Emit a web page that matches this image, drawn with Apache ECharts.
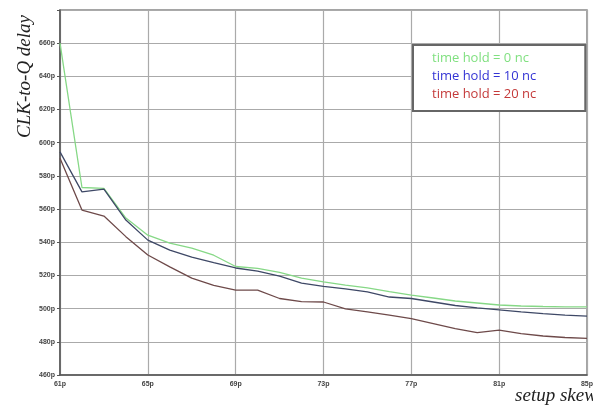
<!DOCTYPE html>
<html>
<head>
<meta charset="utf-8">
<script src="https://cdn.jsdelivr.net/npm/echarts@6/dist/echarts.min.js"></script>
<style>html,body{margin:0;padding:0;background:#fff;}#c{width:593px;height:405px;}</style>
</head>
<body>
<div id="c"></div>
<script>
var skew = [61,62,63,64,65,66,67,68,69,70,71,72,73,74,75,76,77,78,79,80,81,82,83,84,85];
var hold0 = [660,573,572.5,554.6,544.3,539.5,536.5,532.2,525.4,524.3,521.9,518.4,516.1,514.2,512.5,510.3,508.2,506.4,504.6,503.4,502.2,501.6,501.3,501.1,501.1];
var hold10 = [594.5,570.4,572,553.4,541.3,535.3,531,527.7,524.5,522.6,519.6,515.4,513.4,511.9,510.1,507,506.1,504,501.9,500.4,499.2,498,497,496.1,495.5];
var hold20 = [590.7,559.4,555.8,543.4,532.3,525.2,518.4,514,511.2,511.2,506.1,504.2,504,499.8,498,496.1,494,491,488,485.6,487.1,485,483.5,482.6,482.1];
var names = ['time hold = 0 nc','time hold = 10 nc','time hold = 20 nc'];
var lineColors = ['#86d886','#3e4866','#6e4a4a'];
var textColors = ['#80e080','#3434d4','#c43a3a'];

function pairs(ys){ return skew.map(function(x,i){ return [x, ys[i]]; }); }

var chart = echarts.init(document.getElementById('c'), null, {renderer:'canvas'});
chart.setOption({
  animation:false,
  backgroundColor:'#fff',
  grid:{left:60,right:6,top:10,bottom:30,show:true,borderColor:'#888',borderWidth:1.5,outerBoundsMode:'none',containLabel:false},
  legend:{
    orient:'vertical', left:413, top:45,
    data: names.map(function(n,i){ return {name:n, icon:'rect', itemStyle:{opacity:0}, textStyle:{color:textColors[i]}}; }),
    itemWidth:0, itemHeight:0, itemGap:5,
    padding:[7,49,10,14],
    backgroundColor:'#fff', borderColor:'#666', borderWidth:2,
    textStyle:{fontFamily:'Open Sans', fontSize:13}
  },
  xAxis:{
    type:'value', min:61, max:85, interval:4,
    name:'setup skew', nameLocation:'end', nameGap:0, nameMoveOverlap:false,
    nameTextStyle:{fontFamily:'Liberation Serif', fontStyle:'italic', fontSize:19, color:'#222', align:'center', verticalAlign:'top', padding:[11,62,0,0]},
    axisLine:{lineStyle:{color:'#555',width:1.5}},
    axisTick:{show:false},
    axisLabel:{formatter:function(v){return v+'p';}, fontSize:7, fontWeight:'bold', color:'#444', margin:6},
    splitLine:{show:true, lineStyle:{color:'#aaa',width:1.2}}
  },
  yAxis:{
    type:'value', min:460, max:680, interval:20,
    name:'CLK-to-Q delay', nameLocation:'end', nameRotate:90, nameGap:-5,
    nameTextStyle:{fontFamily:'Liberation Serif', fontStyle:'italic', fontSize:19, color:'#222', align:'right', verticalAlign:'bottom', padding:[0,0,26,0]},
    axisLine:{show:true, lineStyle:{color:'#555',width:1.5}},
    axisTick:{show:true, length:3, lineStyle:{color:'#555'}},
    axisLabel:{formatter:function(v){return v===680?'':v+'p';}, fontSize:7, fontWeight:'bold', color:'#444', margin:5},
    splitLine:{show:true, lineStyle:{color:'#aaa',width:1.2}}
  },
  series:[0,1,2].map(function(i){
    return {
      name:names[i], type:'line', data:pairs([hold0,hold10,hold20][i]),
      showSymbol:false, symbol:'none', z:[3,4,2][i],
      lineStyle:{color:lineColors[i], width:1.3},
      itemStyle:{color:lineColors[i]}
    };
  })
});
</script>
</body>
</html>
